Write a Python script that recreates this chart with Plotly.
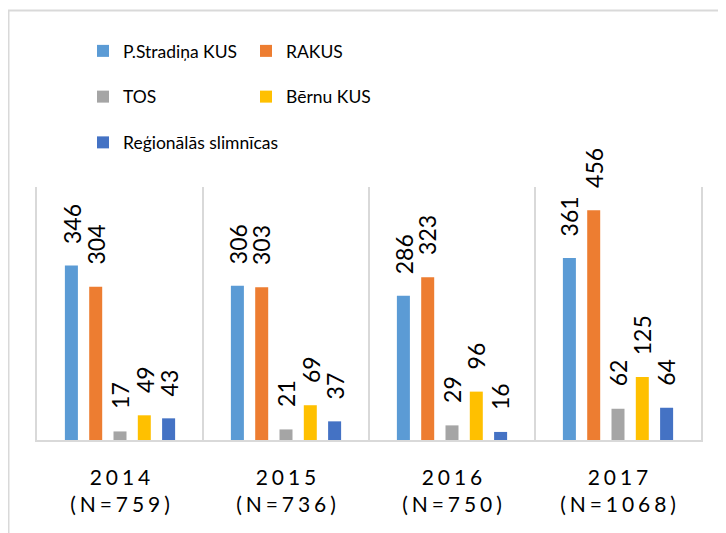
import plotly.graph_objects as go

years = ["2014", "2015", "2016", "2017"]
totals = [759, 736, 750, 1068]
series_names = ["P.Stradiņa KUS", "RAKUS", "TOS", "Bērnu KUS", "Reģionālās slimnīcas"]
stradina = [346, 306, 286, 361]
rakus = [304, 303, 323, 456]
tos = [17, 21, 29, 62]
bernu = [49, 69, 96, 125]
regionalas = [43, 37, 16, 64]
colors = ["#5B9BD5", "#ED7D31", "#A5A5A5", "#FFC000", "#4472C4"]

series_values = [stradina, rakus, tos, bernu, regionalas]
legend_of = ["legend", "legend2", "legend", "legend2", "legend"]

SP = "\u2009\u200a"
def spaced(s):
    return SP.join(s)

categories = [spaced(y) + "<br>" + spaced(f"(N={n})") for y, n in zip(years, totals)]

FONT = "Lato"
bargap = 0.268
nser = len(series_names)

fig = go.Figure()
for k, (name, vals, col) in enumerate(zip(series_names, series_values, colors)):
    fig.add_trace(go.Bar(
        x=categories, y=vals, name=name, marker_color=col,
        marker_line_width=0, legend=legend_of[k], legendgroup=name,
        hoverinfo="skip",
    ))

slot = (1 - bargap) / nser
for k, vals in enumerate(series_values):
    for i, v in enumerate(vals):
        fig.add_annotation(
            x=i + (k - (nser - 1) / 2) * slot, y=v, xref="x", yref="y",
            text=str(v), textangle=-90, showarrow=False,
            xanchor="center", yanchor="bottom", yshift=20,
            font=dict(family=FONT, size=23, color="#000000"),
        )

L, R, T, B = 29, 33, 179, 101
W, H = 726, 533
pw, ph = W - L - R, H - T - B

fig.add_shape(type="rect", xref="paper", yref="paper",
              x0=(0.5 - L) / pw, x1=(W + 10 - L) / pw,
              y0=-(H + 10 - (H - B)) / ph, y1=((H - B) - 2.5) / ph,
              line=dict(color="#D9D9D9", width=2), fillcolor="rgba(0,0,0,0)", layer="below")

legend_common = dict(
    orientation="v", xref="container", yref="container",
    xanchor="left", yanchor="top", bgcolor="rgba(0,0,0,0)",
    font=dict(family=FONT, size=17.5, color="#000000"),
    tracegroupgap=20, itemclick=False, itemdoubleclick=False,
)

fig.update_layout(
    width=W, height=H,
    margin=dict(l=L, r=R, t=T, b=B, autoexpand=False),
    paper_bgcolor="white", plot_bgcolor="white",
    barmode="group", bargap=bargap, bargroupgap=0.465,
    showlegend=True,
    legend=dict(x=75 / W, y=1 - 25 / H, **legend_common),
    legend2=dict(x=238 / W, y=1 - 25 / H, **legend_common),
    font=dict(family=FONT, size=20, color="#000000"),
    xaxis=dict(
        type="category", tickson="boundaries", showgrid=True,
        gridcolor="#D9D9D9", gridwidth=1.5,
        showline=True, linecolor="#D9D9D9", linewidth=1.5,
        ticks="", ticklabelstandoff=18, tickangle=0, automargin=False,
        tickfont=dict(family=FONT, size=21, color="#000000"),
        fixedrange=True,
    ),
    yaxis=dict(
        range=[0, 502], showgrid=False, zeroline=False,
        showticklabels=False, ticks="", automargin=False,
        showline=True, mirror=True, linecolor="#D9D9D9", linewidth=1.5,
        fixedrange=True,
    ),
)

fig.write_html("out.html")
